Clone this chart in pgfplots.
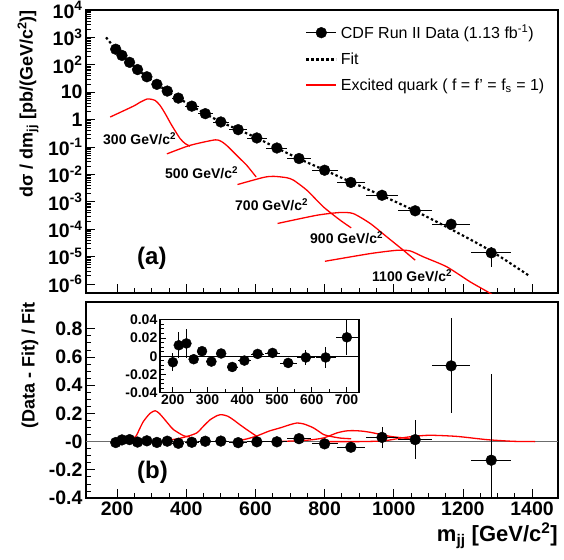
\documentclass[border=0pt]{standalone}
\usepackage{fontspec}
\setmainfont{Liberation Sans}
\usepackage{pgfplots}
\usepackage{pgfplotstable}
\pgfplotsset{compat=1.18}

\pgfplotstableread{
m v dx dy
196 370 9 3.7
214 220 10 3.08
236 123 11 1.97
259 67 12.5 0.268
286 36.6 14 0.146
315 19.4 15 0.097
345 11.0 15.5 0.044
377 6.1 17.5 0.0244
416 3.1 19.5 0.0155
455 1.65 21 0.0066
500 0.82 23.5 0.00328
550 0.43 26 0.00215
604 0.214 28 0.00171
662 0.092 30.5 0.0011
726 0.038 34.5 0.00072
800 0.0142 37.5 0.000284
876 0.0051 41.5 0.000153
966 0.00173 46.5 0.000133
1062 4.7e-4 50 6.4e-5
1166 1.52e-4 55 3.3e-5
1282 1.37e-5 58 9.6e-6
}\topdata

\pgfplotstableread{
m v
168 1000
196 373
214 217
236 121
259 67.2
286 36.4
315 19.5
345 10.97
377 6.17
416 3.11
455 1.65
500 0.817
550 0.433
604 0.214
662 0.092
726 0.0372
800 0.0144
876 0.0053
966 0.00168
1062 4.63e-4
1166 9.9e-5
1282 1.58e-5
1389 2.1e-6
}\fitdata

\pgfplotstableread{
m r dx dr
196 -0.0066 9 0.010
214 0.012 10 0.014
236 0.014 11 0.016
259 -0.0033 12.5 0.004
286 0.0055 14 0.004
315 -0.0059 15 0.005
345 0.003 15.5 0.004
377 -0.0118 17.5 0.004
416 -0.0048 19.5 0.005
455 0.0025 21 0.004
500 0.0036 23.5 0.004
550 -0.0074 26 0.005
604 -0.0014 28 0.008
662 -0.0014 30.5 0.012
726 0.0207 34.5 0.019
800 -0.016 37.5 0.02
876 -0.040 41.5 0.03
966 0.030 46.5 0.077
1062 0.014 50 0.137
1166 0.537 55 0.337
1282 -0.132 58 0.61
}\resdata

\pgfplotstableread{
m r dx dr
200 -0.0066 8.5 0.010
217 0.012 9.5 0.014
239 0.014 10.4 0.016
260 -0.0033 11.8 0.004
284 0.0055 13.2 0.004
311 -0.0059 14.2 0.005
339 0.003 14.6 0.004
371 -0.0118 16.5 0.004
406 -0.0048 18.4 0.005
444 0.0025 19.8 0.004
487 0.0036 22.2 0.004
532 -0.0074 24.6 0.005
583 -0.0014 26.5 0.008
640 -0.0014 28.8 0.012
701 0.0207 32.6 0.019
}\insetdata

\pgfplotsset{
  rootax/.style={
    scale only axis,
    tick pos=left,
    tick align=inside,
    axis line style={line width=1.5pt},
    every tick/.style={black, line width=0.8pt},
    major tick length=9pt,
    minor tick length=5pt,
    scaled ticks=false,
    clip=true,
  },
  datamk/.style={black, only marks, mark=*, mark size=5.4pt, mark options={fill=black, draw=black},
    error bars/x dir=both, error bars/x explicit, error bars/y dir=both, error bars/y explicit,
    error bars/error bar style={line width=0.8pt, black}, error bars/error mark=none},
  sig/.style={red, line width=1.3pt, smooth, tension=0.4, forget plot},
}

\begin{document}
\begin{tikzpicture}
\path[use as bounding box] (0pt,0pt) rectangle (564pt,-559pt);

% ---------------- top panel
\begin{axis}[rootax,
  at={(86pt,-293pt)}, anchor=south west,
  width=472pt, height=283pt,
  xmin=110, xmax=1475,
  ymode=log, ymin=4.7e-7, ymax=1e4,
  xtick={200,400,...,1400}, xticklabels={}, minor x tick num=3,
  ytickten={-6,...,4},
  yticklabels={10\textsuperscript{-6},10\textsuperscript{-5},10\textsuperscript{-4},10\textsuperscript{-3},10\textsuperscript{-2},10\textsuperscript{-1},1,10,10\textsuperscript{2},10\textsuperscript{3},10\textsuperscript{4}},
  tick label style={font=\bfseries\fontsize{19.5}{19.5}\selectfont},
  legend style={at={(axis description cs:0.464,0.955)}, anchor=north west, draw=none, fill=none,
    font=\fontsize{16}{16}\selectfont, inner sep=0pt, row sep=8.5pt,
    /tikz/every odd column/.append style={column sep=1.5pt}},
  legend cell align=left,
]
\addlegendimage{legend image code/.code={\draw[black, line width=0.8pt] (0pt,0pt) -- (30pt,0pt); \fill[black] (15pt,0pt) circle (5.4pt);}}
\addlegendentry{CDF Run II Data (1.13 fb\textsuperscript{-1})}
\addlegendimage{legend image code/.code={\draw[black, line width=2.2pt, dash pattern=on 2.5pt off 2.5pt] (0pt,0pt) -- (30pt,0pt);}}
\addlegendentry{Fit}
\addlegendimage{legend image code/.code={\draw[red, line width=1.3pt] (0pt,0pt) -- (30pt,0pt);}}
\addlegendentry{Excited quark ( f = f’ = f\textsubscript{s} = 1)}

\addplot[sig] coordinates {(180,1.245) (247,3.09) (266,4.27) (286,5.62) (295,5.62) (310,5.01) (324,3.31) (339,1.66) (358,0.617) (382,0.204) (397,0.133) (411,0.107)};
\addplot[sig] coordinates {(344,0.0562) (411,0.115) (483,0.182) (503,0.155) (520,0.105) (536,0.066) (555,0.038) (575,0.0214) (602,0.0081)};
\addplot[sig] coordinates {(548,0.00427) (623,0.00776) (652,0.00851) (690,0.0076) (710,0.00617) (749,0.00263) (797,6.46e-4) (845,2.14e-4) (877,1.12e-4)};
\addplot[sig] coordinates {(664,1.62e-4) (778,3.24e-4) (845,4.07e-4) (883,3.72e-4) (932,1.62e-4) (980,5.25e-5) (1028,1.70e-5) (1062,7.41e-6)};
\addplot[sig] coordinates {(801,6.76e-6) (932,1.29e-5) (1009,1.70e-5) (1047,1.62e-5) (1086,9.77e-6) (1153,4.27e-6) (1221,1.20e-6) (1279,4.57e-7) (1320,2e-7)};

\addplot[black, line width=2.2pt, dash pattern=on 2.5pt off 2.5pt, smooth, forget plot] table[x=m, y=v] {\fitdata};
\addplot[datamk, forget plot] table[x=m, y=v, x error=dx, y error=dy] {\topdata};
\end{axis}

% ---------------- bottom panel
\begin{axis}[rootax,
  at={(86pt,-498pt)}, anchor=south west,
  width=472pt, height=196pt,
  xmin=110, xmax=1475,
  ymin=-0.4, ymax=0.99,
  xtick={200,400,600,800,1000,1200,1400},
  xticklabels={200,400,600,800,1000,1200,1400},
  minor x tick num=3,
  ytick={-0.4,-0.2,0,0.2,0.4,0.6,0.8},
  yticklabels={-0.4,-0.2,-0,0.2,0.4,0.6,0.8},
  minor y tick num=3,
  tick label style={font=\bfseries\fontsize{19.5}{19.5}\selectfont},
]
\addplot[gray!85!black, line width=1.2pt, forget plot] coordinates {(110,0) (1475,0)};
\addplot[sig] coordinates {(189,0) (230,0.004) (243,0.014) (255,0.04) (265,0.09) (276,0.143) (295,0.2) (310,0.219) (322,0.2) (334,0.167) (350,0.12) (363,0.085) (392,0.042) (411,0.033)};
\addplot[sig] coordinates {(344,0.01) (373,0.019) (400,0.035) (430,0.061) (450,0.11) (469,0.155) (490,0.185) (503,0.191) (520,0.18) (536,0.155) (555,0.12) (575,0.085) (604,0.037)};
\addplot[sig] coordinates {(548,0.005) (575,0.019) (604,0.04) (640,0.075) (671,0.097) (700,0.12) (720,0.132) (740,0.125) (768,0.097) (797,0.05) (811,0.04) (845,0.025) (877,0.02)};
\addplot[sig] coordinates {(664,0.0) (750,0.01) (797,0.026) (835,0.061) (860,0.075) (879,0.078) (905,0.075) (932,0.066) (990,0.037) (1028,0.026) (1057,0.014)};
\addplot[sig] coordinates {(801,0.0) (900,0.0) (970,0.005) (1020,0.025) (1057,0.037) (1105,0.045) (1182,0.037) (1269,0.014) (1346,0.002) (1409,0.0)};
\addplot[datamk, forget plot] table[x=m, y=r, x error=dx, y error=dr] {\resdata};
\end{axis}

% ---------------- inset
\begin{axis}[rootax,
  at={(160pt,-392.7pt)}, anchor=south west,
  width=199pt, height=73pt,
  xmin=163, xmax=736,
  ymin=-0.04, ymax=0.04,
  axis background/.style={fill=white},
  axis line style={line width=1.2pt},
  major tick length=6pt, minor tick length=3.5pt,
  xtick={200,300,400,500,600,700},
  xticklabels={200,300,400,500,600,700},
  minor x tick num=1,
  ytick={-0.04,-0.02,0,0.02,0.04},
  yticklabels={-0.04,-0.02,0,0.02,0.04},
  minor y tick num=3,
  tick label style={font=\bfseries\fontsize{14}{14}\selectfont},
  xticklabel style={inner sep=1.5pt},
  yticklabel style={inner sep=2.5pt},
]
\addplot[black, line width=0.8pt, forget plot] coordinates {(163,0) (736,0)};
\addplot[datamk, mark size=5pt, forget plot] table[x=m, y=r, x error=dx, y error=dr] {\insetdata};
\end{axis}

% ---------------- texts
\begin{scope}[every node/.style={font=\bfseries\fontsize{14}{14}\selectfont, inner sep=0pt}]
\node[anchor=west] at (103pt,-139pt) {300 GeV/c\textsuperscript{2}};
\node[anchor=west] at (165pt,-173pt) {500 GeV/c\textsuperscript{2}};
\node[anchor=west] at (235pt,-205pt) {700 GeV/c\textsuperscript{2}};
\node[anchor=west] at (310pt,-238pt) {900 GeV/c\textsuperscript{2}};
\node[anchor=west] at (372pt,-276pt) {1100 GeV/c\textsuperscript{2}};
\end{scope}
\node[anchor=west, inner sep=0pt, font=\bfseries\fontsize{24}{24}\selectfont] at (137pt,-258pt) {(a)};
\node[anchor=west, inner sep=0pt, font=\bfseries\fontsize{24}{24}\selectfont] at (137pt,-472pt) {(b)};
\node[rotate=90, anchor=east, inner sep=0pt, font=\bfseries\fontsize{18}{18}\selectfont] at (28pt,-10pt) {dσ / dm\textsubscript{jj} [pb/(GeV/c\textsuperscript{2})]};
\node[rotate=90, anchor=east, inner sep=0pt, font=\bfseries\fontsize{18}{18}\selectfont] at (30pt,-302pt) {(Data - Fit) / Fit};
\node[anchor=base east, inner sep=0pt, font=\bfseries\fontsize{22}{22}\selectfont] at (558pt,-541pt) {m\textsubscript{jj} [GeV/c\textsuperscript{2}]};
\end{tikzpicture}
\end{document}
